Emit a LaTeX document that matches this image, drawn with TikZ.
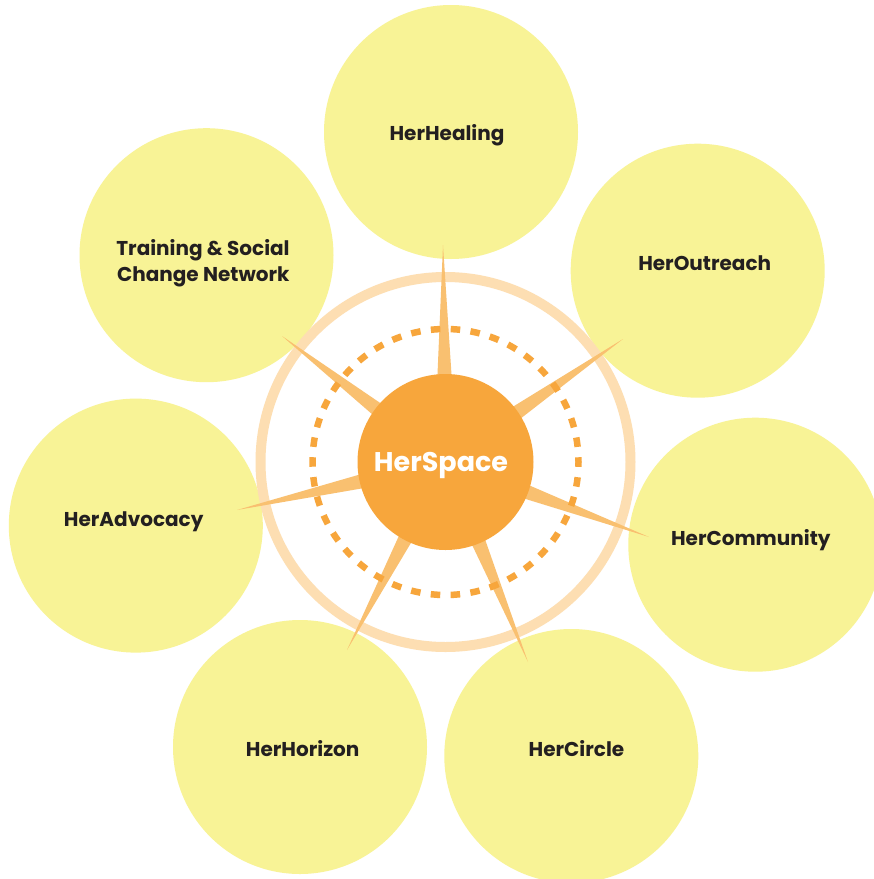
\documentclass[tikz,border=0pt]{standalone}
\usepackage{fontspec}
\setmainfont{Poppins}
\usetikzlibrary{calc}
\definecolor{yel}{RGB}{248,243,150}
\definecolor{ringc}{RGB}{253,222,178}
\definecolor{spikec}{RGB}{249,192,112}
\definecolor{orangec}{RGB}{247,166,60}
\definecolor{txtc}{RGB}{35,31,32}
\tikzset{
  bubble/.style={circle, fill=yel, minimum size=254pt, inner sep=0pt},
  hubnode/.style={circle, fill=orangec, minimum size=176pt, inner sep=0pt},
  ringnode/.style={circle, draw=ringc, line width=10pt, minimum size=370pt, inner sep=0pt},
  dashnode/.style={circle, draw=orangec, line width=6.5pt, minimum size=266pt, inner sep=0pt,
    dash pattern=on 9.5pt off 10.397pt, dash phase=4.75pt},
  spikefill/.style={fill=spikec},
  lbl/.style={anchor=base, inner sep=0pt, text=txtc, font=\fontsize{20}{26}\selectfont\bfseries},
  hublbl/.style={anchor=base, inner sep=0pt, text=white, font=\fontsize{27}{32}\selectfont\bfseries}
}
\begin{document}
\begin{tikzpicture}[x=1pt,y=-1pt]
\clip (0,0) rectangle (874,879);
\fill[white] (0,0) rectangle (874,879);
% outer bubbles
\node[bubble] (healing) at (451,132) {};
\node[bubble] (outreach) at (697.7,270.7) {};
\node[bubble] (community) at (755.3,544.7) {};
\node[bubble] (circ) at (571.3,756) {};
\node[bubble] (horizon) at (300,747) {};
\node[bubble] (advocacy) at (135.8,525.6) {};
\node[bubble] (training) at (206.5,255.2) {};
% ring
\node[ringnode] (ring) at (445.5,462) {};
% spikes
\coordinate (hubc) at (445.5,462);
\coordinate (s1) at (443,245);
\coordinate (s2) at (623,339);
\coordinate (s3) at (649,537);
\coordinate (s4) at (528,662);
\coordinate (s5) at (347,650);
\coordinate (s6) at (237,510);
\coordinate (s7) at (282,336);
\foreach \i in {1,...,7}{
  \path ($(hubc)!60pt!(s\i)$) coordinate (b\i);
  \fill[spikefill] (s\i) -- ($(b\i)!8.5pt!90:(s\i)$) -- ($(b\i)!8.5pt!-90:(s\i)$) -- cycle;
}
% dashed ring
\node[dashnode] (dring) at (445.5,462) {};
% hub
\node[hubnode] (hub) at (445.5,462) {};
\node[hublbl] (hubtext) at (441,471) {HerSpace};
% labels
\node[lbl] (thealing) at (447,140) {HerHealing};
\node[lbl] (toutreach) at (704.7,270.7) {HerOutreach};
\node[lbl] (tcommunity) at (750.8,545) {HerCommunity};
\node[lbl] (tcirc) at (576.5,756) {HerCircle};
\node[lbl] (thorizon) at (302.7,756) {HerHorizon};
\node[lbl] (tadvocacy) at (133.7,526) {HerAdvocacy};
\node[lbl] (ttraininga) at (203,255) {Training \& Social};
\node[lbl] (ttrainingb) at (203.3,281.8) {Change Network};
\end{tikzpicture}
\end{document}
